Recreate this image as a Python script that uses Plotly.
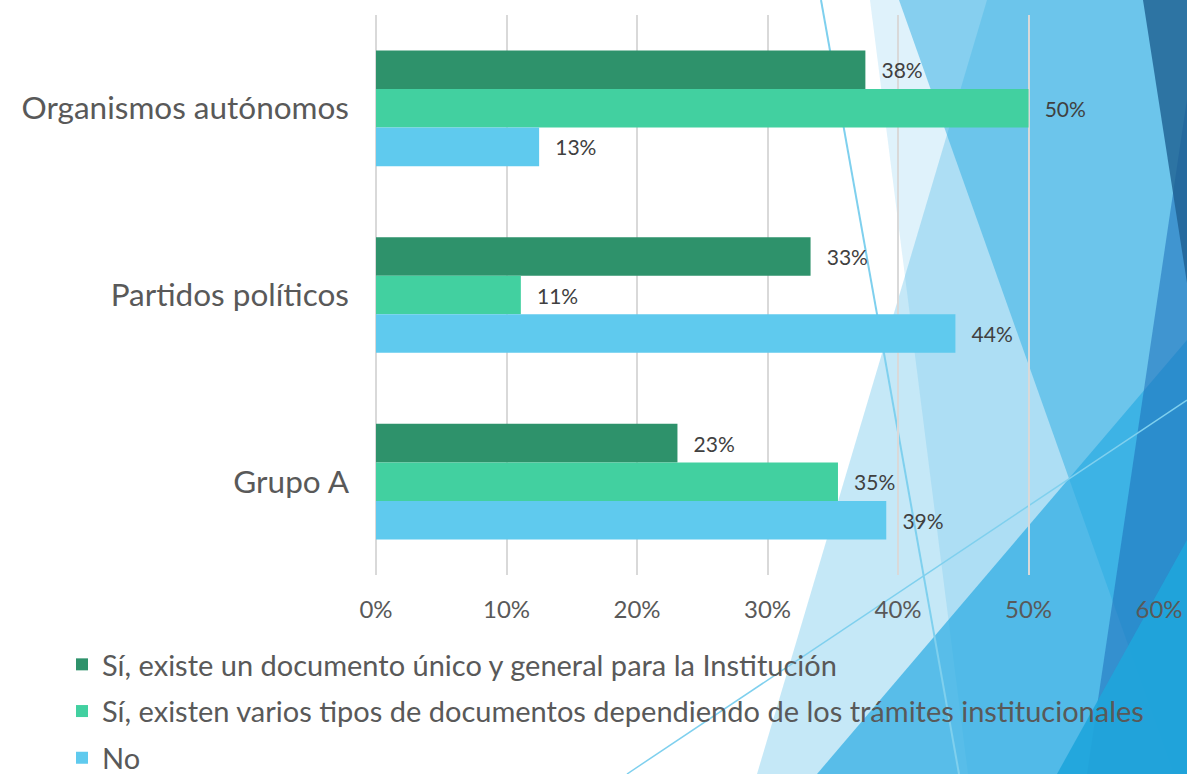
import plotly.graph_objects as go

# ---------------- data ----------------
categories = ["Organismos autónomos", "Partidos políticos", "Grupo A"]
series_names = [
    "Sí, existe un documento único y general para la Institución",
    "Sí, existen varios tipos de documentos dependiendo de los trámites institucionales",
    "No",
]
doc_unico = [37.5, 33.3, 23.1]
doc_varios = [50.0, 11.1, 35.4]
no_doc = [12.5, 44.4, 39.1]
series_values = [doc_unico, doc_varios, no_doc]
series_colors = ["#2E926B", "#42D0A0", "#5FCAEE"]
x_tick_values = [0, 10, 20, 30, 40, 50, 60]
x_tick_labels = ["0%", "10%", "20%", "30%", "40%", "50%", "60%"]

# ---------------- geometry helpers (decoration only) ----------------
W, H = 1187, 774
ML, MR, MT, MB = 376, 28, 15, 199
PW, PH = W - ML - MR, H - MT - MB


def px(x):
    return (x - ML) / PW


def py(y):
    return (H - MB - y) / PH


def poly(points, fill):
    path = "M " + " L ".join(f"{px(a):.5f},{py(b):.5f}" for a, b in points) + " Z"
    return dict(type="path", xref="paper", yref="paper", path=path,
                fillcolor=fill, line=dict(width=0), layer="below")


def seg(p1, p2, color, width):
    return dict(type="line", xref="paper", yref="paper",
                x0=px(p1[0]), y0=py(p1[1]), x1=px(p2[0]), y1=py(p2[1]),
                line=dict(color=color, width=width), layer="below")


base = "41,171,226"
shapes = [
    poly([(870, 0), (1187, 0), (1187, 774), (968, 774)], f"rgba({base},0.15)"),
    poly([(987, 0), (1187, 0), (1187, 774), (757, 774)], f"rgba({base},0.27)"),
    poly([(899, 0), (1187, 0), (1187, 774), (1174, 774)], f"rgba({base},0.49)"),
    poly([(817, 774), (1187, 340), (1187, 774)], f"rgba({base},0.70)"),
    poly([(1187, 99), (1187, 774), (1087, 774)], "rgba(30,110,185,0.55)"),
    poly([(1143, 0), (1187, 0), (1187, 283)], "rgba(30,95,145,0.80)"),
    poly([(1187, 540), (1187, 774), (1057, 774)], "rgba(31,165,219,0.92)"),
    seg((821, 0), (959, 774), "#7FD0EE", 2),
    seg((627, 774), (1187, 400), "#7FD0EE", 1.5),
]

FONT = "Lato, 'Open Sans', sans-serif"

fig = go.Figure()
for i, (name, vals, col) in enumerate(zip(series_names, series_values, series_colors)):
    fig.add_trace(go.Bar(
        y=categories, x=vals, name=name, orientation="h",
        marker=dict(color=col, line=dict(width=0)),
        texttemplate="\u2002\u2009%{x:.0f}%", textposition="outside",
        textfont=dict(family=FONT, size=21, color="#404040"),
        cliponaxis=False, legendgroup=f"g{i}", hoverinfo="x+y",
    ))

fig.update_layout(
    width=W, height=H,
    margin=dict(l=ML, r=MR, t=MT, b=MB, autoexpand=False),
    paper_bgcolor="white", plot_bgcolor="rgba(0,0,0,0)",
    barmode="group", bargap=0.38, bargroupgap=0,
    font=dict(family=FONT, color="#595959"),
    shapes=shapes,
    showlegend=True,
    legend=dict(
        x=px(62), y=py(639), xanchor="left", yanchor="top",
        orientation="v", traceorder="grouped",
        font=dict(family=FONT, size=29, color="#595959"),
        tracegroupgap=6, bgcolor="rgba(0,0,0,0)",
        itemwidth=30,
    ),
    xaxis=dict(
        range=[0, 60], tickmode="array", tickvals=x_tick_values, ticktext=x_tick_labels,
        showgrid=True, gridcolor="#D9D9D9", gridwidth=2,
        zeroline=True, zerolinecolor="#D9D9D9", zerolinewidth=2,
        showline=False, ticks="",
        tickfont=dict(family=FONT, size=24, color="#595959"),
        ticklabelstandoff=18, fixedrange=True,
    ),
    yaxis=dict(
        categoryorder="array", categoryarray=categories,
        autorange="reversed", showgrid=False, zeroline=False,
        showline=False, ticks="",
        tickfont=dict(family=FONT, size=31.5, color="#595959"),
        ticklabelstandoff=26, fixedrange=True,
    ),
)

fig.write_html(
    "out.html",
    config={"displayModeBar": False},
    post_script="document.body.style.margin='0';document.body.style.overflow='hidden';",
)
